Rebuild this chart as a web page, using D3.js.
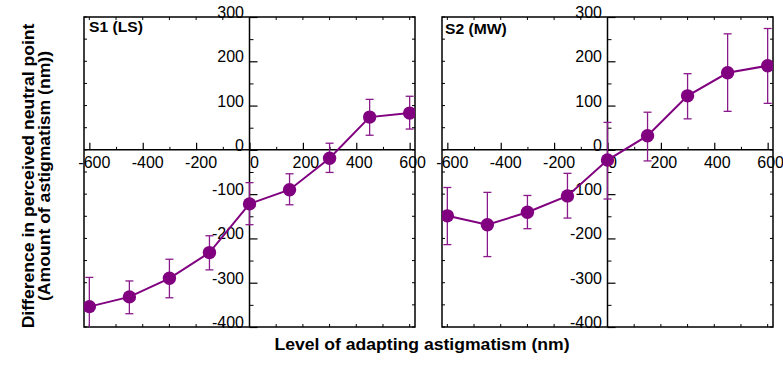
<!DOCTYPE html>
<html>
<head>
<meta charset="utf-8">
<script src="https://cdn.jsdelivr.net/npm/d3@7"></script>
<style>
  html, body { margin: 0; padding: 0; background: #fff; }
  svg { display: block; font-family: "Liberation Sans", Arial, Helvetica, sans-serif; }
</style>
</head>
<body>
<svg id="chart" width="783" height="368"></svg>
<script>
// ---- data ----
const levels = [-600, -450, -300, -150, 0, 150, 300, 450, 600];
const panelLabels = ["S1 (LS)", "S2 (MW)"];
const s1Mean  = [-354, -332, -290, -232, -122, -90, -19, 74, 83];
const s1Upper = [-288, -296, -247, -194, -74, -54, 15, 114, 121];
const s1Lower = [-420, -370, -334, -271, -169, -124, -51, 33, 47];
const s2Mean  = [-149, -169, -141, -104, -23, 32, 122, 174, 190];
const s2Upper = [-85, -96, -103, -53, 62, 85, 172, 262, 274];
const s2Lower = [-214, -241, -178, -154, -111, -25, 70, 87, 105];
const xMajorTicks = [-600, -400, -200, 0, 200, 400, 600];
const xMinorTicks = [-500, -300, -100, 100, 300, 500];
const yMajorTicks = [-400, -300, -200, -100, 0, 100, 200, 300];
const yMinorTicks = [-350, -250, -150, -50, 50, 150, 250];
const yTitleLines = ["Difference in perceived neutral point", "(Amount of astigmatism (nm))"];
const xTitle = "Level of adapting astigmatism (nm)";

const series = [
  { label: panelLabels[0], mean: s1Mean, upper: s1Upper, lower: s1Lower },
  { label: panelLabels[1], mean: s2Mean, upper: s2Upper, lower: s2Lower }
];

// ---- layout ----
const svg = d3.select("#chart");
const purple = "#800080";
const panelLefts = [84, 442];
const labelOffsets = [[5, 31.5], [3, 34]];
const panelW = 331;
const topY = 17, bottomY = 327;
const y = d3.scaleLinear().domain([-400, 300]).range([bottomY, topY]);

series.forEach((s, i) => {
  const left = panelLefts[i];
  const x = d3.scaleLinear().domain([-620, 620]).range([left, left + panelW]);
  const g = svg.append("g");
  const clipId = "clip" + i;
  svg.append("defs").append("clipPath").attr("id", clipId)
    .append("rect").attr("x", left).attr("y", topY).attr("width", panelW).attr("height", bottomY - topY);

  // box
  g.append("rect").attr("x", left).attr("y", topY).attr("width", panelW).attr("height", bottomY - topY)
    .attr("fill", "none").attr("stroke", "#000").attr("stroke-width", 1.5);

  // border minor ticks
  const bt = g.append("g").attr("stroke", "#000").attr("stroke-width", 1);
  xMajorTicks.concat(xMinorTicks).forEach(v => {
    bt.append("line").attr("x1", x(v)).attr("x2", x(v)).attr("y1", topY).attr("y2", topY + 3);
    bt.append("line").attr("x1", x(v)).attr("x2", x(v)).attr("y1", bottomY).attr("y2", bottomY - 3);
  });
  yMajorTicks.concat(yMinorTicks).forEach(v => {
    bt.append("line").attr("x1", left + panelW).attr("x2", left + panelW - 3).attr("y1", y(v)).attr("y2", y(v));
    bt.append("line").attr("x1", left).attr("x2", left + 3).attr("y1", y(v)).attr("y2", y(v));
  });

  // x axis at y=0 (ticks up)
  const xa = g.append("g").attr("transform", `translate(0,${y(0)})`)
    .call(d3.axisTop(x).tickValues(xMajorTicks).tickSize(7).tickFormat(""));
  xa.select(".domain").remove();
  xa.selectAll(".tick line").attr("stroke", "#000").attr("stroke-width", 1.2);
  g.append("g").attr("transform", `translate(0,${y(0)})`)
    .call(d3.axisTop(x).tickValues(xMinorTicks).tickSize(3).tickFormat(""))
    .call(a => a.select(".domain").remove());
  g.append("line").attr("x1", left).attr("x2", left + panelW).attr("y1", y(0)).attr("y2", y(0))
    .attr("stroke", "#000").attr("stroke-width", 1.5);

  // y axis at x=0 (ticks right)
  const ya = g.append("g").attr("transform", `translate(${x(0)},0)`)
    .call(d3.axisRight(y).tickValues(yMajorTicks).tickSize(8).tickFormat(""));
  ya.select(".domain").remove();
  ya.selectAll(".tick line").attr("stroke-width", 1.2);
  g.append("g").attr("transform", `translate(${x(0)},0)`)
    .call(d3.axisRight(y).tickValues(yMinorTicks).tickSize(4).tickFormat(""))
    .call(a => a.select(".domain").remove());
  g.append("line").attr("x1", x(0)).attr("x2", x(0)).attr("y1", topY).attr("y2", bottomY)
    .attr("stroke", "#000").attr("stroke-width", 1.5);

  // x tick labels
  g.append("g").selectAll("text").data(xMajorTicks).join("text")
    .attr("x", d => d === 0 ? x(0) + 0.5 : x(d) + (d < 0 ? 5 : 3))
    .attr("y", y(0) + 18)
    .attr("text-anchor", d => d === 0 ? "start" : "middle")
    .attr("font-size", 16).attr("fill", "#000")
    .text(d => d);

  // y tick labels
  g.append("g").selectAll("text").data(yMajorTicks).join("text")
    .attr("x", x(0) - 5.5)
    .attr("y", d => y(d) + 1)
    .attr("text-anchor", "end")
    .attr("font-size", 16).attr("fill", "#000")
    .text(d => d);

  // panel label
  g.append("text")
    .attr("transform", `translate(${left + labelOffsets[i][0]},${labelOffsets[i][1]}) scale(1.08,1)`)
    .attr("font-size", 14.5).attr("font-weight", "bold").text(s.label);

  // data
  const dg = g.append("g").attr("clip-path", `url(#${clipId})`);
  const eb = dg.append("g").attr("stroke", "#8a1a8a").attr("stroke-width", 1.3);
  levels.forEach((lv, k) => {
    const cx = x(lv);
    eb.append("line").attr("x1", cx).attr("x2", cx).attr("y1", y(s.upper[k])).attr("y2", y(s.lower[k]));
    eb.append("line").attr("x1", cx - 4).attr("x2", cx + 4).attr("y1", y(s.upper[k])).attr("y2", y(s.upper[k]));
    eb.append("line").attr("x1", cx - 4).attr("x2", cx + 4).attr("y1", y(s.lower[k])).attr("y2", y(s.lower[k]));
  });
  const line = d3.line().x((d, k) => x(levels[k])).y(d => y(d));
  dg.append("path").datum(s.mean).attr("d", line)
    .attr("fill", "none").attr("stroke", purple).attr("stroke-width", 2);
  dg.selectAll("circle").data(s.mean).join("circle")
    .attr("cx", (d, k) => x(levels[k])).attr("cy", d => y(d)).attr("r", 6.7)
    .attr("fill", purple);
});

// axis titles
const yt = svg.append("text")
  .attr("transform", "translate(0,176) rotate(-90) scale(1.1,1)")
  .attr("text-anchor", "middle").attr("font-size", 16).attr("font-weight", "bold");
yTitleLines.forEach((t, i) => {
  yt.append("tspan").attr("x", 0).attr("y", 34 + i * 16).text(t);
});
svg.append("text")
  .attr("transform", "translate(422,350) scale(1.1,1)")
  .attr("x", 0).attr("y", 0)
  .attr("text-anchor", "middle").attr("font-size", 16).attr("font-weight", "bold").text(xTitle);
</script>
</body>
</html>
